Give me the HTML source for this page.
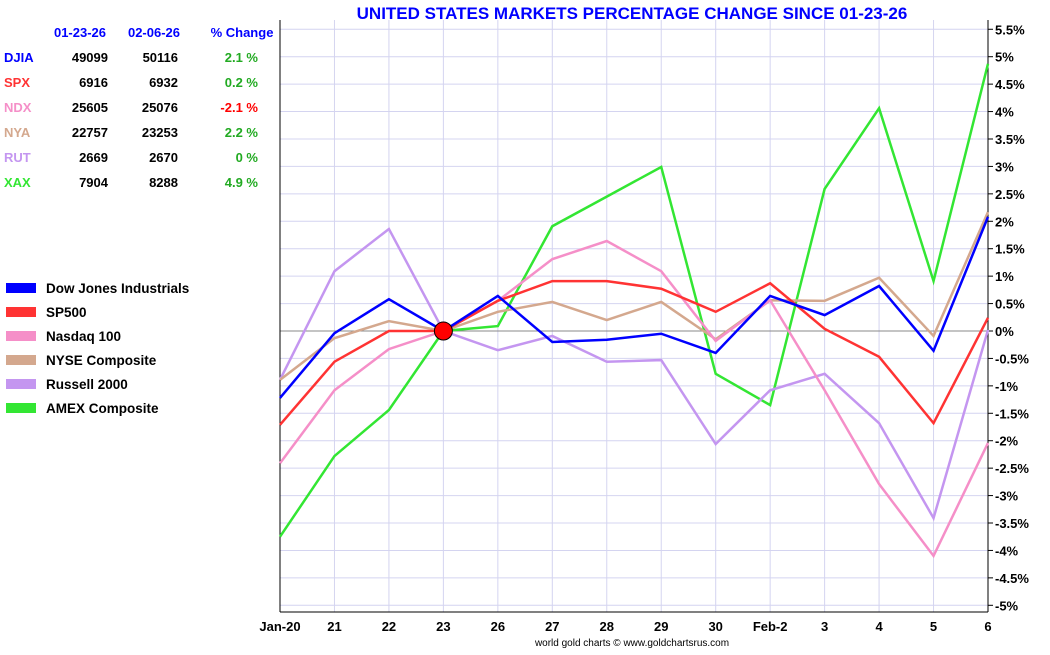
<!DOCTYPE html>
<html><head><meta charset="utf-8"><style>
body{margin:0;background:#fff;width:1050px;height:650px;overflow:hidden;font-family:"Liberation Sans",Arial,sans-serif}
svg text{font-family:"Liberation Sans",Arial,sans-serif;font-weight:bold}
</style></head><body>
<svg id="chart" width="1050" height="650" xmlns="http://www.w3.org/2000/svg">
<text x="632" y="19" text-anchor="middle" font-size="17" fill="#0000ff">UNITED STATES MARKETS PERCENTAGE CHANGE SINCE 01-23-26</text>
<g id="grid"></g>
<g id="axes"></g>
<g id="series"></g>
<g id="table"></g>
<g id="legend"></g>
<text x="632" y="646" text-anchor="middle" font-size="10" fill="#000" style="font-weight:normal">world gold charts © www.goldchartsrus.com</text>
</svg>
<script>
const categories=["Jan-20","21","22","23","26","27","28","29","30","Feb-2","3","4","5","6"];
const yTicks=[5.5,5,4.5,4,3.5,3,2.5,2,1.5,1,0.5,0,-0.5,-1,-1.5,-2,-2.5,-3,-3.5,-4,-4.5,-5];
const seriesNames=["Dow Jones Industrials","SP500","Nasdaq 100","NYSE Composite","Russell 2000","AMEX Composite"];
const seriesColors=["#0000ff","#ff3333","#f58fc8","#d4a88e","#c496f0","#33e633"];
const djia=[-1.22,-0.04,0.58,0,0.64,-0.2,-0.16,-0.05,-0.4,0.64,0.29,0.82,-0.36,2.08];
const spx=[-1.71,-0.56,0,0,0.55,0.91,0.91,0.77,0.35,0.87,0.04,-0.47,-1.68,0.24];
const ndx=[-2.41,-1.08,-0.33,0,0.55,1.31,1.64,1.09,-0.18,0.56,-1.08,-2.79,-4.1,-2.04];
const nya=[-0.89,-0.13,0.18,0,0.35,0.53,0.2,0.53,-0.15,0.56,0.55,0.97,-0.09,2.17];
const rut=[-0.89,1.09,1.86,0,-0.35,-0.09,-0.56,-0.53,-2.06,-1.08,-0.78,-1.68,-3.41,0.02];
const xax=[-3.75,-2.28,-1.44,0,0.09,1.91,2.45,2.99,-0.78,-1.35,2.59,4.06,0.91,4.87];
const tableSymbols=["DJIA","SPX","NDX","NYA","RUT","XAX"];
const tableStart=["49099","6916","25605","22757","2669","7904"];
const tableEnd=["50116","6932","25076","23253","2670","8288"];
const tableChange=["2.1 %","0.2 %","-2.1 %","2.2 %","0 %","4.9 %"];
const NS="http://www.w3.org/2000/svg";
const X0=280,X1=988,Y0=331,PER=54.86;
const xs=i=>X0+i*(X1-X0)/(categories.length-1);
const ys=v=>Y0-v*PER;
function mk(tag,attrs,parent,txt){const e=document.createElementNS(NS,tag);for(const k in attrs)e.setAttribute(k,attrs[k]);if(txt!==undefined)e.textContent=txt;parent.appendChild(e);return e;}
const grid=document.getElementById('grid'),axes=document.getElementById('axes'),ser=document.getElementById('series');
categories.forEach((c,i)=>{
 const l=mk('line',{x1:xs(i),x2:xs(i),y1:20,y2:612,stroke:'#d4d4f0','stroke-width':1},grid);
 
 
 const t=mk('text',{x:xs(i),y:631,'text-anchor':'middle','font-size':13,fill:'#000'},axes,c);
 
 
});
yTicks.forEach(v=>{
 if(v===0)return;
 const l=mk('line',{x1:X0,x2:X1,y1:ys(v),y2:ys(v),stroke:'#d4d4f0','stroke-width':1},grid);
 
 
});
mk('line',{x1:X0,x2:X1,y1:ys(0),y2:ys(0),stroke:'#888','stroke-width':1},grid);
mk('line',{x1:X0,x2:X0,y1:20,y2:612,stroke:'#000'},axes);
mk('line',{x1:X1,x2:X1,y1:20,y2:612,stroke:'#000'},axes);
mk('line',{x1:X0,x2:X1,y1:612,y2:612,stroke:'#000'},axes);
yTicks.forEach(v=>{
 mk('line',{x1:X1,x2:X1+5,y1:ys(v),y2:ys(v),stroke:'#000'},axes);
 const t=mk('text',{x:X1+7,y:ys(v)+5,'font-size':13,fill:'#000'},axes,v+'%');
 
 
});
const all=[djia,spx,ndx,nya,rut,xax];
const order=[5,4,3,2,1,0];
order.forEach(k=>{
 const p=mk('polyline',{points:all[k].map((v,i)=>xs(i)+','+ys(v)).join(' '),fill:'none',stroke:seriesColors[k],'stroke-width':2.5},ser);
 
 
});
const dot=mk('circle',{cx:xs(3),cy:ys(0),r:9,fill:'#ff0000',stroke:'#000','stroke-width':1},ser);


const tb=document.getElementById('table');
mk('text',{x:80,y:37,'text-anchor':'middle','font-size':13,fill:'#0000ff'},tb,'01-23-26');
mk('text',{x:154,y:37,'text-anchor':'middle','font-size':13,fill:'#0000ff'},tb,'02-06-26');
mk('text',{x:242,y:37,'text-anchor':'middle','font-size':13,fill:'#0000ff'},tb,'% Change');
tableSymbols.forEach((s,i)=>{
 const y=62+i*25;
 const a=mk('text',{x:4,y:y,'font-size':13,fill:seriesColors[i]},tb,s);
 
 
 mk('text',{x:108,y:y,'text-anchor':'end','font-size':13,fill:'#000'},tb,tableStart[i]);
 mk('text',{x:178,y:y,'text-anchor':'end','font-size':13,fill:'#000'},tb,tableEnd[i]);
 mk('text',{x:258,y:y,'text-anchor':'end','font-size':13,fill:tableChange[i].startsWith('-')?'#ff0000':'#22aa22'},tb,tableChange[i]);
});
const lg=document.getElementById('legend');
seriesNames.forEach((n,i)=>{
 const y=288+i*24;
 const r=mk('rect',{x:6,y:y-5,width:30,height:10,fill:seriesColors[i]},lg);
 
 
 const t=mk('text',{x:46,y:y+5,'font-size':13.5,fill:'#000'},lg,n);
 
 
});
</script>
</body></html>
